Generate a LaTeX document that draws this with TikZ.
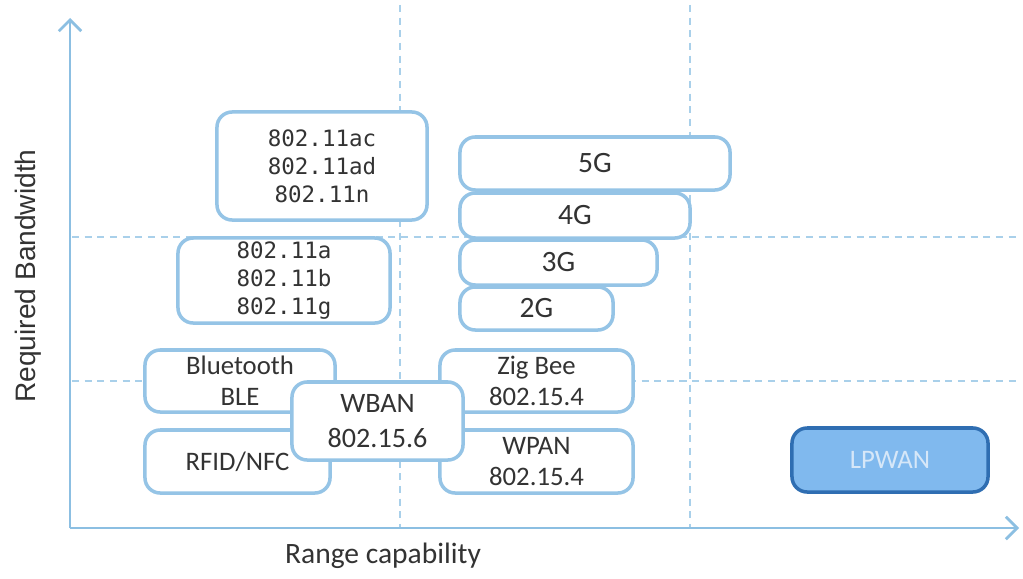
\documentclass[tikz,border=0pt]{standalone}
\usepackage{fontspec}
\setmainfont{Carlito}
\newfontfamily\codefont{DejaVu Sans Mono}
\newfontfamily\axisfont{Liberation Sans}
\usepackage{xcolor}
\usepackage{tikz}
\usetikzlibrary{arrows.meta, positioning}

\definecolor{axisblue}{HTML}{8CBFE2}
\definecolor{boxblue}{HTML}{95C4E6}
\definecolor{gridblue}{HTML}{A9D0EA}
\definecolor{lpfill}{HTML}{80B9EE}
\definecolor{lpdraw}{HTML}{2F6EB2}
\definecolor{lptext}{HTML}{D6E7F8}
\definecolor{ink}{HTML}{333333}

\begin{document}
\begin{tikzpicture}[
      x=0.025cm, y=-0.025cm,
      tech/.style={rectangle, rounded corners=0.38cm, draw=boxblue, line width=2.5pt,
        fill=white, inner sep=0pt, align=center, text=ink},
      std/.style={tech, font=\codefont\fontsize{16}{20}\selectfont},
      band/.style={tech, font=\fontsize{19}{22}\selectfont},
      gen/.style={tech, font=\fontsize{21}{24}\selectfont},
      grid/.style={draw=gridblue, line width=1pt, dash pattern=on 5pt off 4pt},
      axis/.style={draw=axisblue, line width=2pt, -{Straight Barb[length=8pt, width=16pt, line width=2pt]}}
    ]
      \useasboundingbox[fill=white] (0,0) rectangle (1023,578);

      % grid
      \coordinate (v1top) at (400,5);
      \coordinate (v1bot) at (400,528);
      \coordinate (v2top) at (690,5);
      \coordinate (v2bot) at (690,528);
      \coordinate (h1l) at (72,237);
      \coordinate (h1r) at (1018,237);
      \coordinate (h2l) at (72,381);
      \coordinate (h2r) at (1018,381);
      \draw[grid] (v1top) -- (v1bot);
      \draw[grid] (v2top) -- (v2bot);
      \draw[grid] (h1l) -- (h1r);
      \draw[grid] (h2l) -- (h2r);

      % axes
      \coordinate (origin) at (70,528);
      \coordinate (ytop) at (70,18);
      \coordinate (xend) at (1019,528);
      \draw[axis] (origin) -- (ytop);
      \draw[axis] (origin) -- (xend);

      \node[text=ink, font=\axisfont\fontsize{20}{24}\selectfont, rotate=90] (ylabel) at (28,276) {Required Bandwidth};
      \node[text=ink, font=\fontsize{21}{25}\selectfont] (xlabel) at (383,556) {Range capability};

      % wifi
      \node[std, minimum width=5.25cm, minimum height=2.7cm] (wifihigh) at (322,166) {802.11ac\\802.11ad\\802.11n};
      \node[std, minimum width=5.3cm, minimum height=2.125cm] (wifilow) at (284,280.5) {802.11a\\802.11b\\802.11g};

      % cellular
      \node[gen, minimum width=6.75cm, minimum height=1.325cm] (g5) at (595,163.5) {5G};
      \node[gen, minimum width=5.75cm, minimum height=1.125cm] (g4) at (575,215.5) {4G};
      \node[gen, minimum width=4.925cm, minimum height=1.125cm] (g3) at (558.5,262.5) {3G};
      \node[gen, minimum width=3.825cm, minimum height=1.075cm] (g2) at (536.5,308.5) {2G};

      % short range
      \node[band, minimum width=4.75cm, minimum height=1.55cm] (bt) at (240,381) {Bluetooth\\BLE};
      \node[band, minimum width=4.625cm, minimum height=1.575cm] (rfid) at (237.5,461.5) {RFID/NFC};
      \node[band, minimum width=4.825cm, minimum height=1.55cm] (zigbee) at (536.5,381) {Zig Bee\\802.15.4};
      \node[band, minimum width=4.825cm, minimum height=1.575cm] (wpan) at (536.5,461.5) {WPAN\\802.15.4};
      \node[band, font=\fontsize{20}{25}\selectfont, minimum width=4.275cm, minimum height=1.95cm] (wban) at (377.5,421) {WBAN\\802.15.6};

      \node[tech, draw=lpdraw, fill=lpfill, text=lptext, font=\fontsize{19}{23}\selectfont,
        minimum width=4.9cm, minimum height=1.6cm] (lpwan) at (890,460) {LPWAN};
    \end{tikzpicture}
\end{document}
